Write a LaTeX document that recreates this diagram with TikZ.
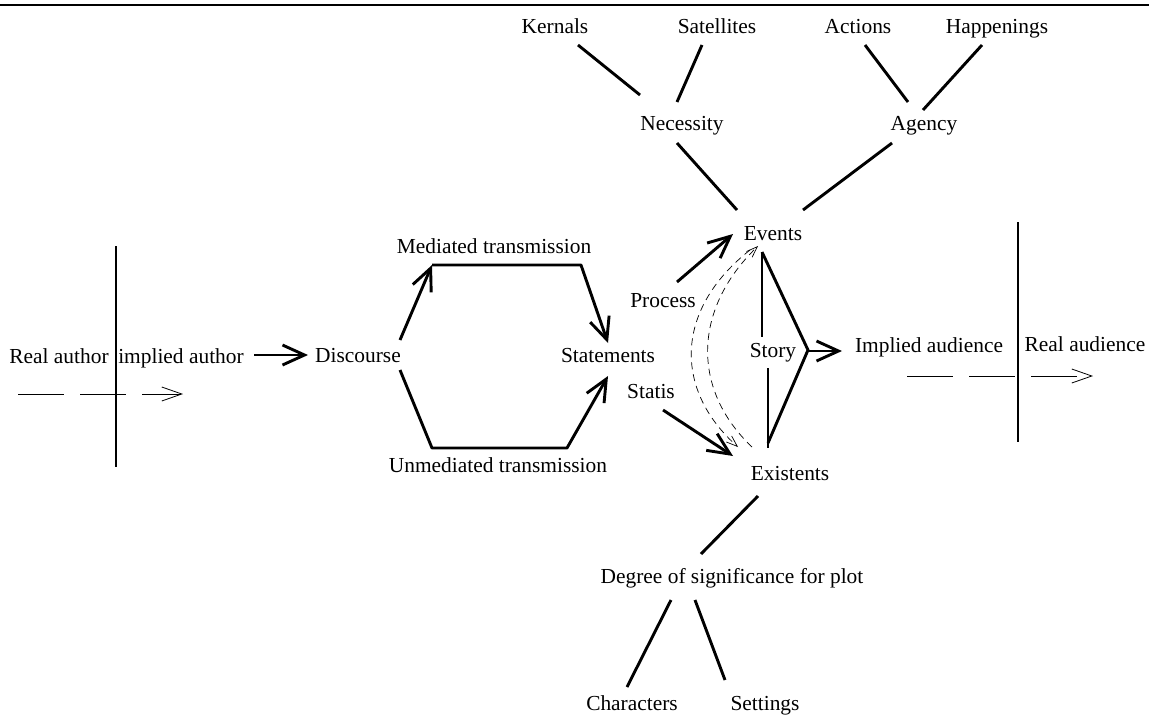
\documentclass[tikz,border=0pt]{standalone}
\usepackage{fontspec}
\setmainfont{Liberation Serif}
\usetikzlibrary{arrows.meta}
\begin{document}
\begin{tikzpicture}[x=1pt,y=-1pt,
  lbl/.style={anchor=base,inner sep=0pt,font=\fontsize{21.4}{25}\selectfont},
  thickline/.style={line width=2.9pt},
  arr/.style={thickline,-{Straight Barb[length=22pt,width=20pt]}},
  dasharr/.style={line width=0.8pt,dash pattern=on 46pt off 16pt,-{Straight Barb[length=20pt,width=14pt]}},
  arcline/.style={line width=0.7pt,dash pattern=on 7pt off 5pt},
  arcarr/.style={arcline,-{Straight Barb[length=11pt,width=8pt]}},
  bar/.style={line width=2.9pt}
]
\useasboundingbox (0,0) rectangle (1149,715);
\draw[line width=2.5pt] (0,5) -- (1149,5);

% labels
\node[lbl] (kern) at (555,33) {Kernals};
\node[lbl] (sat) at (717,33) {Satellites};
\node[lbl] (act) at (858,33) {Actions};
\node[lbl] (hap) at (997,33) {Happenings};
\node[lbl] (nec) at (682,130) {Necessity};
\node[lbl] (age) at (924,130) {Agency};
\node[lbl] (events) at (773,240) {Events};
\node[lbl] (medt) at (494,253) {Mediated transmission};
\node[lbl] (process) at (663,307) {Process};
\node[lbl] (statements) at (608,362) {Statements};
\node[lbl] (story) at (773,357) {Story};
\node[lbl] (implaud) at (929,352) {Implied audience};
\node[lbl] (realaud) at (1085,351) {Real audience};
\node[lbl] (realauth) at (59,363) {Real author};
\node[lbl] (implauth) at (181,363) {implied author};
\node[lbl] (disc) at (358,362) {Discourse};
\node[lbl] (statis) at (651,398) {Statis};
\node[lbl] (unmed) at (498,472) {Unmediated transmission};
\node[lbl] (existents) at (790,480) {Existents};
\node[lbl] (degree) at (732,583) {Degree of significance for plot};
\node[lbl] (chars) at (632,710) {Characters};
\node[lbl] (settings) at (765,710) {Settings};

% connector end points
\coordinate (kernB) at (578,45);  \coordinate (necK) at (640,95);
\coordinate (satB) at (702,45);   \coordinate (necS) at (677,102);
\coordinate (actB) at (865,45);   \coordinate (ageA) at (908,102);
\coordinate (hapB) at (982,45);   \coordinate (ageH) at (923,110);
\coordinate (necB) at (677,143);  \coordinate (evN) at (737,210);
\coordinate (ageB) at (892,143);  \coordinate (evA) at (803,210);
\coordinate (evB) at (762,252);   \coordinate (storyT) at (762,337);
\coordinate (storyB) at (768,368); \coordinate (exT) at (768,448);
\coordinate (tri) at (808,350);   \coordinate (exT2) at (768,443);
\coordinate (storyR) at (808,351); \coordinate (audL) at (842,351);
\coordinate (procS) at (677,282); \coordinate (evP) at (733,234);
\coordinate (statS) at (663,410); \coordinate (exS) at (733,456);
\coordinate (iaR) at (254,355);   \coordinate (discL) at (308,355);
\coordinate (discTR) at (400,340); \coordinate (hexTL) at (432,265);
\coordinate (hexTR) at (581,265); \coordinate (stT) at (608,343);
\coordinate (discBR) at (400,370); \coordinate (hexBL) at (432,448);
\coordinate (hexBR) at (567,448); \coordinate (stB) at (608,376);
\coordinate (exBl) at (758,496);  \coordinate (degT) at (701,554);
\coordinate (degBL) at (671,600); \coordinate (charT) at (627,687);
\coordinate (degBR) at (695,600); \coordinate (setT) at (725,680);
\coordinate (arcAtop) at (750,250); \coordinate (arcAbot) at (738,447);
\coordinate (arcBbot) at (752,447); \coordinate (arcBtop) at (758,246);
\coordinate (lda) at (18,394);   \coordinate (ldb) at (183,394);
\coordinate (rda) at (907,376);  \coordinate (rdb) at (1093,376);

% bars
\draw[bar] (116,246) -- (116,467);
\draw[bar] (1018,222) -- (1018,442);

% dashed audience/author arrows
\draw[dasharr] (lda) -- (ldb);
\draw[dasharr] (rda) -- (rdb);

% tree lines
\draw[thickline] (kernB) -- (necK);
\draw[thickline] (satB) -- (necS);
\draw[thickline] (actB) -- (ageA);
\draw[thickline] (hapB) -- (ageH);
\draw[thickline] (necB) -- (evN);
\draw[thickline] (ageB) -- (evA);
\draw[thickline] (exBl) -- (degT);
\draw[thickline] (degBL) -- (charT);
\draw[thickline] (degBR) -- (setT);

% story
\draw[thickline] (evB) -- (storyT);
\draw[thickline] (storyB) -- (exT);
\draw[thickline,line join=round] (evB) -- (tri) -- (exT2);
\draw[arr] (storyR) -- (audL);

% process / statis
\draw[arr] (procS) -- (evP);
\draw[arr] (statS) -- (exS);

% author to discourse
\draw[arr] (iaR) -- (discL);

% hexagon
\draw[arr] (discTR) -- (hexTL);
\draw[arr,line join=round] (hexTL) -- (hexTR) -- (stT);
\draw[arr,line join=round] (discBR) -- (hexBL) -- (hexBR) -- (stB);

% dashed arcs
\draw[arcarr] (arcAtop) .. controls (674,310) and (674,390) .. (arcAbot);
\draw[arcarr] (arcBbot) .. controls (692,390) and (692,310) .. (arcBtop);
\end{tikzpicture}
\end{document}
